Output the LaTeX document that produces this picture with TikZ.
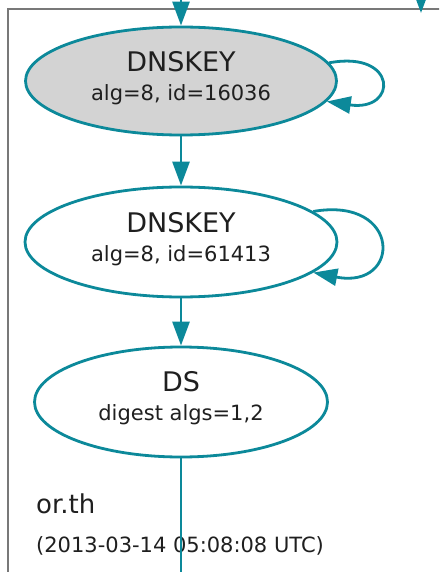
\documentclass[tikz,border=0pt]{standalone}
\usepackage{fontspec}
\setmainfont{DejaVu Sans}
\usetikzlibrary{shapes.geometric,arrows.meta}
\definecolor{dnsteal}{RGB}{12,137,154}
\definecolor{clusterline}{RGB}{120,120,120}
\definecolor{keyfill}{RGB}{211,211,211}
\tikzset{
  rr/.style={draw=dnsteal, line width=2.8pt, ellipse, inner sep=0pt},
  link/.style={draw=dnsteal, line width=2.8pt, -{Triangle[length=24pt,width=17pt]}},
  plain/.style={draw=dnsteal, line width=2.8pt},
  bigtxt/.style={font=\fontsize{27}{27}\selectfont, anchor=base, inner sep=0pt, text=black!88},
  smalltxt/.style={font=\fontsize{21}{21}\selectfont, anchor=base, inner sep=0pt, text=black!88},
}
\begin{document}
\begin{tikzpicture}[x=1pt,y=-1pt]
\useasboundingbox (0,0) rectangle (439,572);
\clip (0,0) rectangle (439,572);
\fill[white] (0,0) rectangle (439,572);

% zone cluster frame
\draw[clusterline, line width=1.3pt] (8,600) -- (8,9) -- (460,9);

% records
\node[rr, fill=keyfill, minimum width=311pt, minimum height=108pt] (k1) at (181,81) {};
\node[rr, minimum width=312pt, minimum height=110pt] (k2) at (181,242) {};
\node[rr, minimum width=293pt, minimum height=110pt] (ds) at (181,402) {};

\node[bigtxt] (k1a) at (181,72) {DNSKEY};
\node[smalltxt] (k1b) at (181,101) {alg=8, id=16036};
\node[bigtxt] (k2a) at (181,232) {DNSKEY};
\node[smalltxt] (k2b) at (181,261) {alg=8, id=61413};
\node[bigtxt] (dsa) at (181,391) {DS};
\node[smalltxt] (dsb) at (181,420) {digest algs=1,2};

% zone label
\node[font=\fontsize{26}{26}\selectfont, anchor=base west, inner sep=0pt, text=black!88] (zname) at (36,513) {or.th};
\node[smalltxt, anchor=base west] (zdate) at (36,552) {(2013-03-14 05:08:08 UTC)};

% incoming edges from above
\coordinate (intop) at (181,-20);
\coordinate (rtop) at (421,-20);
\coordinate (rtip) at (421,13);
\draw[link] (intop) -- (k1.north);
\draw[link] (rtop) -- (rtip);

% chain
\draw[link] (k1.south) -- (k2.north);
\draw[link] (k2.south) -- (ds.north);
\coordinate (dsout) at (181,600);
\draw[plain] (ds.south) -- (dsout);

% self-signatures
\draw[link] (k1.7) .. controls (398,50) and (398,112) .. (k1.-8);
\draw[link] (k2.13) .. controls (402,196) and (402,290) .. (k2.-13);
\end{tikzpicture}
\end{document}
